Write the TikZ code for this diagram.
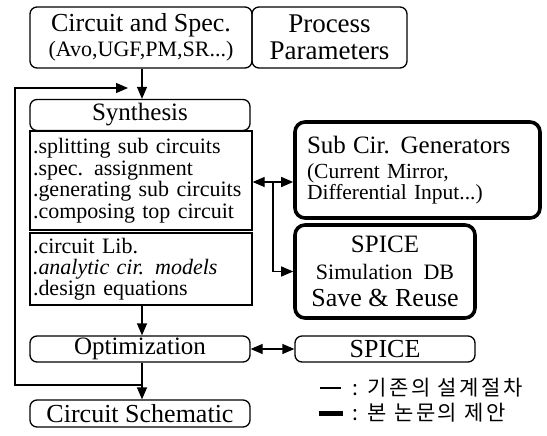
\documentclass[tikz,border=0pt]{standalone}
\usepackage{fontspec}
\setmainfont{Liberation Serif}
\newfontfamily\krfont[LetterSpace=12]{Noto Sans CJK KR}
\usetikzlibrary{arrows.meta}
\newcommand{\fs}[1]{\fontsize{#1}{#1}\selectfont}
\tikzset{
  rbox/.style={draw, line width=1.3pt, rounded corners=7pt, inner sep=0pt, align=center},
  tbox/.style={draw, line width=3.6pt, rounded corners=10pt, inner sep=0pt},
  lbox/.style={draw, line width=1.3pt, inner sep=0pt, align=left},
  tip/.tip={Triangle[length=12pt,width=10pt]},
  arr/.style={line width=1.3pt, -tip},
  darr/.style={line width=1.3pt, tip-tip}
}
\begin{document}
\begin{tikzpicture}[x=1pt,y=-1pt]
\useasboundingbox (0,0) rectangle (547,436);
\fill[white] (0,0) rectangle (547,436);

\node[rbox, minimum width=222pt, minimum height=61pt, font=\fontsize{26}{25}\selectfont] (cs) at (141,37.5)
  {Circuit and Spec.\\\fontsize{22}{24}\selectfont (Avo,UGF,PM,SR...)};
\node[rbox, minimum width=155pt, minimum height=61pt, font=\fontsize{27}{27}\selectfont] (pp) at (329.5,37.5)
  {Process\\Parameters};

\node[rbox, minimum width=220pt, minimum height=31pt, font=\fs{25}] (syn) at (140,115) {Synthesis};
\node[lbox, minimum width=222pt, minimum height=99pt, text width=216pt, font=\fontsize{22}{21.5}\selectfont] (l1) at (141,180.5)
  {\hyphenpenalty=10000 .splitting sub circuits\\.spec. assignment\\.generating sub circuits\\.composing top circuit};
\node[lbox, minimum width=222pt, minimum height=72pt, text width=216pt, font=\fontsize{22}{21}\selectfont] (l2) at (141,269)
  {\hyphenpenalty=10000 .circuit Lib.\\\textit{.analytic cir. models}\\.design equations};
\node[rbox, minimum width=220pt, minimum height=26pt, font=\fs{25}] (opt) at (140,349) {Optimization};
\node[rbox, minimum width=220pt, minimum height=27pt, font=\fs{26}] (sch) at (140,413.5) {Circuit Schematic};

\node[tbox, minimum width=245pt, minimum height=96pt, text width=221pt, align=left, font=\fontsize{21.5}{21}\selectfont] (sub) at (417.5,170)
  {\fontsize{25}{27}\selectfont Sub Cir. Generators\\[4pt]\fontsize{21.5}{21}\selectfont (Current Mirror,\\Differential Input...)};
\node[tbox, minimum width=180pt, minimum height=93pt, align=center, font=\fontsize{25}{27}\selectfont] (db) at (385,271.5)
  {SPICE\\\fontsize{22}{27}\selectfont Simulation\ \ DB\\\fontsize{26}{27}\selectfont Save \& Reuse};
\node[rbox, minimum width=180pt, minimum height=26pt, font=\fs{26}] (spice) at (385,349) {SPICE};

% main flow
\draw[arr] (cs.south -| 142,0) -- (syn.north -| 142,0);
\draw[arr] (l2.south -| 142,0) -- (opt.north -| 142,0);
\draw[arr] (opt.south -| 142,0) -- (sch.north -| 142,0);

% feedback loop
\coordinate (jb) at (142,385);
\coordinate (jt) at (128,88);
\draw[arr] (jb) -- (15,385) -- (15,88) -- (jt);

% side arrows
\coordinate (jn) at (273,182);
\draw[darr] (l1.east |- jn) -- (sub.west |- jn);
\draw[arr] (jn) |- (db.west);
\draw[darr] (opt.east) -- (spice.west);

% legend
\node[anchor=west, inner sep=0pt, font=\krfont\fontsize{21}{21}\selectfont] (lt1) at (352,388) {: 기존의 설계절차};
\node[anchor=west, inner sep=0pt, font=\krfont\fontsize{21}{21}\selectfont] (lt2) at (352,413) {: 본 논문의 제안};
\draw[line width=1.3pt] ([xshift=-32pt]lt1.west) -- ([xshift=-11pt]lt1.west);
\draw[line width=5pt] ([xshift=-33pt]lt2.west) -- ([xshift=-9pt]lt2.west);
\end{tikzpicture}
\end{document}
